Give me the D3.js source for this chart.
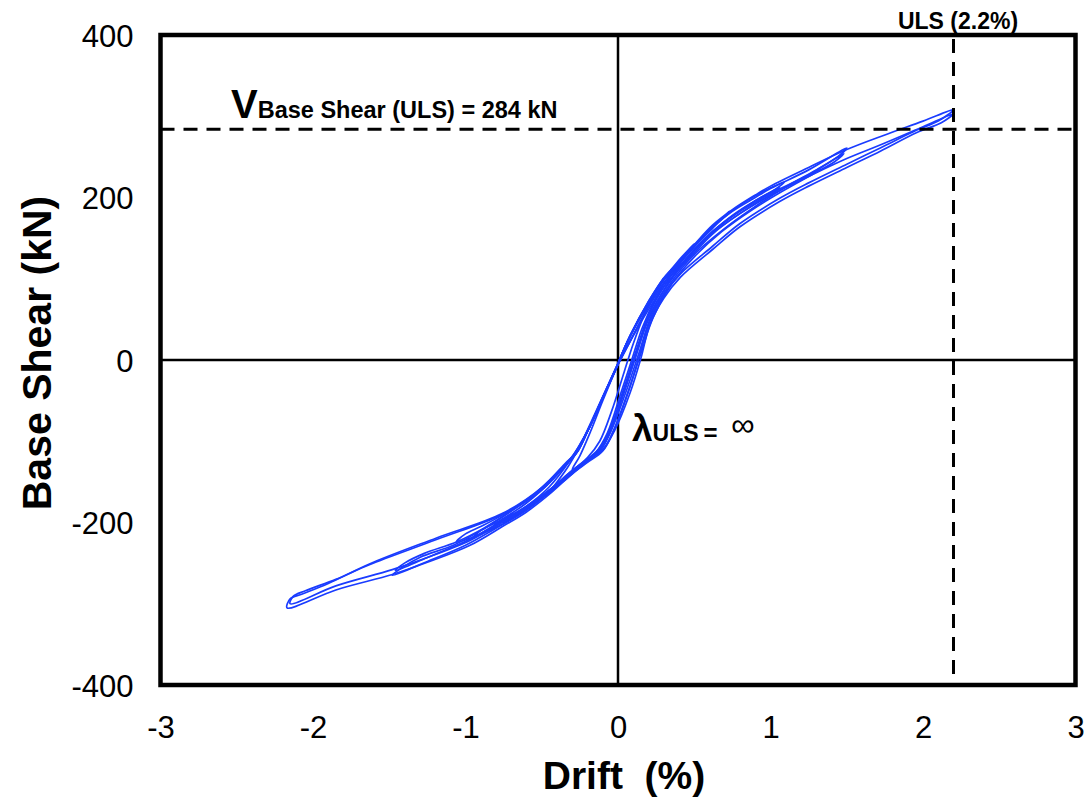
<!DOCTYPE html>
<html>
<head>
<meta charset="utf-8">
<script src="https://cdn.jsdelivr.net/npm/d3@7"></script>
<style>
  html, body { margin: 0; padding: 0; background: #fff; }
  svg { display: block; }
  text { font-family: "Liberation Sans", Arial, sans-serif; fill: #000; }
</style>
</head>
<body>
<svg id="chart" width="1086" height="799"></svg>
<script>
// ---------------- DATA ----------------
const xTicks = [-3, -2, -1, 0, 1, 2, 3];
const yTicks = [-400, -200, 0, 200, 400];
const xTitle = "Drift  (%)";
const yTitle = "Base Shear (kN)";
const ulsDrift = 2.2;
const ulsShear = 284;

// Hysteresis cycles: [drift (%), base shear (kN)]
const loop03 = [[0,-5],[0.08,30],[0.2,72],[0.3,101],[0.25,86],[0.17,55],[0.1,20],[0.04,-15],[-0.04,-62],[-0.12,-100],[-0.2,-120],[-0.3,-135],[-0.25,-118],[-0.18,-88],[-0.1,-50],[0,-5]];
const loop05 = [[0,-5],[0.08,30],[0.2,70],[0.3,99],[0.4,123],[0.5,143],[0.45,132],[0.35,108],[0.25,77],[0.16,40],[0.09,0],[0.02,-40],[-0.07,-90],[-0.15,-115],[-0.25,-132],[-0.35,-148],[-0.48,-168],[-0.42,-155],[-0.33,-132],[-0.25,-106],[-0.15,-68],[-0.05,-25],[0,-5]];
const loop075 = [[0,-5],[0.08,29],[0.2,69],[0.3,98],[0.41,120],[0.5,139],[0.62,162],[0.73,183],[0.68,174],[0.58,157],[0.45,129],[0.32,96],[0.2,55],[0.12,12],[0.04,-34],[-0.05,-84],[-0.12,-108],[-0.2,-122],[-0.3,-138],[-0.45,-162],[-0.6,-183],[-0.75,-200],[-0.7,-192],[-0.6,-180],[-0.45,-156],[-0.32,-125],[-0.25,-104],[-0.18,-80],[-0.1,-46],[0,-5]];
const loop11a = [[0,-4],[0.08,30],[0.2,71],[0.3,100],[0.41,122],[0.5,141],[0.62,164],[0.75,184],[0.9,202],[1.0,212],[1.09,219],[1.03,210],[0.9,196],[0.75,177],[0.6,155],[0.45,125],[0.32,92],[0.2,52],[0.12,8],[0.04,-38],[-0.05,-86],[-0.12,-110],[-0.2,-124],[-0.3,-139],[-0.45,-163],[-0.6,-184],[-0.8,-206],[-1.06,-224],[-1.0,-214],[-0.9,-205],[-0.75,-190],[-0.55,-165],[-0.4,-139],[-0.28,-114],[-0.2,-87],[-0.1,-46],[0,-5]];
const loop11b = [[0,-5],[0.1,31],[0.2,66],[0.3,95],[0.41,117],[0.5,136],[0.62,158],[0.75,178],[0.9,196],[1.06,212],[1.0,203],[0.88,190],[0.72,170],[0.58,150],[0.44,121],[0.31,88],[0.2,50],[0.12,6],[0.04,-40],[-0.05,-88],[-0.12,-111],[-0.2,-122],[-0.3,-136],[-0.45,-160],[-0.6,-180],[-0.8,-202],[-0.96,-220],[-0.9,-210],[-0.78,-198],[-0.6,-176],[-0.42,-145],[-0.29,-116],[-0.2,-88],[-0.1,-47],[0,-5]];
const loop15a = [[0,-4],[0.08,30],[0.2,70],[0.3,99],[0.41,121],[0.5,140],[0.62,163],[0.75,183],[0.9,200],[1.0,211],[1.25,234],[1.5,261],[1.44,250],[1.3,234],[1.1,213],[0.9,189],[0.7,162],[0.5,130],[0.35,96],[0.22,55],[0.14,10],[0.06,-35],[-0.04,-85],[-0.11,-110],[-0.2,-125],[-0.3,-139],[-0.45,-163],[-0.6,-185],[-0.8,-207],[-1.0,-228],[-1.25,-248],[-1.48,-265],[-1.42,-256],[-1.3,-243],[-1.08,-228],[-0.9,-210],[-0.7,-186],[-0.5,-160],[-0.35,-131],[-0.27,-114],[-0.2,-88],[-0.1,-46],[0,-4]];
const loop15b = [[0,-5],[0.1,30],[0.2,65],[0.3,94],[0.41,116],[0.5,135],[0.62,157],[0.75,177],[0.9,194],[1.0,205],[1.25,228],[1.48,254],[1.42,244],[1.28,229],[1.08,208],[0.88,185],[0.68,158],[0.5,127],[0.35,93],[0.23,52],[0.15,8],[0.07,-37],[-0.03,-87],[-0.1,-111],[-0.2,-123],[-0.3,-137],[-0.45,-160],[-0.6,-181],[-0.8,-203],[-1.0,-223],[-1.25,-243],[-1.46,-259],[-1.4,-250],[-1.27,-238],[-1.06,-224],[-0.88,-207],[-0.68,-183],[-0.5,-158],[-0.35,-130],[-0.27,-114],[-0.2,-88],[-0.1,-47],[0,-5]];
const loop22a = [[0,-4],[0.08,30],[0.2,72],[0.3,101],[0.41,123],[0.5,142],[0.62,166],[0.75,185],[0.9,203],[1.0,214],[1.25,237],[1.5,259],[1.75,277],[2.0,294],[2.2,308],[2.1,294],[1.96,283],[1.72,261],[1.5,241],[1.25,218],[1.06,199],[0.8,168],[0.62,140],[0.41,106],[0.3,80],[0.21,48],[0.14,5],[0.07,-38],[-0.03,-88],[-0.1,-112],[-0.2,-126],[-0.3,-140],[-0.43,-162],[-0.6,-187],[-0.75,-204],[-0.97,-228],[-1.25,-249],[-1.48,-264],[-1.85,-283],[-2.17,-305],[-2.15,-294],[-2.07,-288],[-1.9,-275],[-1.63,-251],[-1.19,-219],[-0.76,-189],[-0.5,-157],[-0.35,-128],[-0.27,-113],[-0.2,-86],[-0.1,-45],[0,-4]];
const loop22b = [[0,-6],[0.1,30],[0.2,62],[0.3,90],[0.41,114],[0.5,132],[0.62,155],[0.75,174],[0.9,192],[1.0,203],[1.25,226],[1.5,248],[1.75,267],[2.0,287],[2.2,303],[2.12,292],[1.96,280],[1.72,257],[1.5,237],[1.25,214],[1.06,195],[0.8,164],[0.62,136],[0.41,102],[0.3,76],[0.21,44],[0.15,2],[0.08,-40],[-0.02,-86],[-0.1,-110],[-0.2,-122],[-0.3,-136],[-0.43,-157],[-0.6,-182],[-0.75,-199],[-0.97,-222],[-1.25,-243],[-1.48,-258],[-1.85,-278],[-2.15,-300],[-2.13,-291],[-2.05,-284],[-1.85,-270],[-1.63,-252],[-1.19,-221],[-0.76,-190],[-0.5,-159],[-0.35,-130],[-0.27,-114],[-0.2,-88],[-0.1,-47],[0,-6]];
const cycles = [loop03, loop05, loop075, loop11a, loop11b, loop15a, loop15b, loop22a, loop22b];

// ---------------- CHART ----------------
const svg = d3.select("#chart");
const pLeft = 160.5, pRight = 1075.5, pTop = 35, pBottom = 685;
const x = d3.scaleLinear().domain([-3, 3]).range([pLeft, pRight]);
const y = d3.scaleLinear().domain([-400, 400]).range([pBottom, pTop]);

// zero lines
svg.append("line").attr("x1", pLeft).attr("x2", pRight).attr("y1", y(0)).attr("y2", y(0))
  .attr("stroke", "#000").attr("stroke-width", 2.5);
svg.append("line").attr("x1", x(0)).attr("x2", x(0)).attr("y1", pTop).attr("y2", pBottom)
  .attr("stroke", "#000").attr("stroke-width", 2.5);

// hysteresis
const line = d3.line().x(d => x(d[0])).y(d => y(d[1])).curve(d3.curveCatmullRom.alpha(0.5));
svg.append("g").selectAll("path").data(cycles).join("path")
  .attr("d", line).attr("fill", "none").attr("stroke", "#1a3cff").attr("stroke-width", 1.7)
  .attr("stroke-linejoin", "round");

// dashed reference lines
svg.append("line").attr("x1", pLeft).attr("x2", pRight).attr("y1", y(ulsShear)).attr("y2", y(ulsShear))
  .attr("stroke", "#000").attr("stroke-width", 3).attr("stroke-dasharray", "14,9");
svg.append("line").attr("x1", x(ulsDrift)).attr("x2", x(ulsDrift)).attr("y1", pTop + 4).attr("y2", pBottom)
  .attr("stroke", "#000").attr("stroke-width", 3).attr("stroke-dasharray", "14,9");

// frame
svg.append("rect").attr("x", pLeft).attr("y", pTop).attr("width", pRight - pLeft).attr("height", pBottom - pTop)
  .attr("fill", "none").attr("stroke", "#000").attr("stroke-width", 4.5);

// axes (labels only)
const xAxis = d3.axisBottom(x).tickValues(xTicks).tickSize(0).tickFormat(d => String(d));
const gx = svg.append("g").attr("transform", `translate(0,${pBottom})`).call(xAxis);
gx.select(".domain").remove();
gx.selectAll("text").attr("y", 53).attr("dy", null).attr("font-size", 31).attr("font-family", "Liberation Sans, Arial, sans-serif").attr("fill", "#000");

const yAxis = d3.axisLeft(y).tickValues(yTicks).tickSize(0).tickFormat(d => String(d));
const gy = svg.append("g").attr("transform", `translate(${pLeft},0)`).call(yAxis);
gy.select(".domain").remove();
gy.selectAll("text").attr("x", -27).attr("dy", "0.36em").attr("font-size", 31).attr("font-family", "Liberation Sans, Arial, sans-serif").attr("fill", "#000");

// titles
svg.append("text").attr("x", 624).attr("y", 789).attr("text-anchor", "middle")
  .attr("font-size", 39).attr("font-weight", "bold").style("white-space", "pre").text(xTitle);
svg.append("text").attr("transform", "translate(51,353) rotate(-90)").attr("text-anchor", "middle")
  .attr("font-size", 41).attr("font-weight", "bold").text(yTitle);

// annotations
const vt = svg.append("text").attr("x", 231).attr("y", 118).attr("font-weight", "bold");
vt.append("tspan").attr("font-size", 40).text("V");
vt.append("tspan").attr("font-size", 23.5).text("Base Shear (ULS) = 284 kN");

svg.append("text").attr("x", 958).attr("y", 29).attr("text-anchor", "middle")
  .attr("font-size", 23).attr("font-weight", "bold").text("ULS (2.2%)");

const lt = svg.append("text").attr("x", 632).attr("y", 441).attr("font-weight", "bold");
lt.append("tspan").attr("font-size", 37).text("λ");
lt.append("tspan").attr("font-size", 23).text("ULS");
lt.append("tspan").attr("font-size", 24).attr("dx", 5).text("=");
svg.append("text").attr("x", 731).attr("y", 436).attr("font-size", 33).text("∞");
</script>
</body>
</html>
